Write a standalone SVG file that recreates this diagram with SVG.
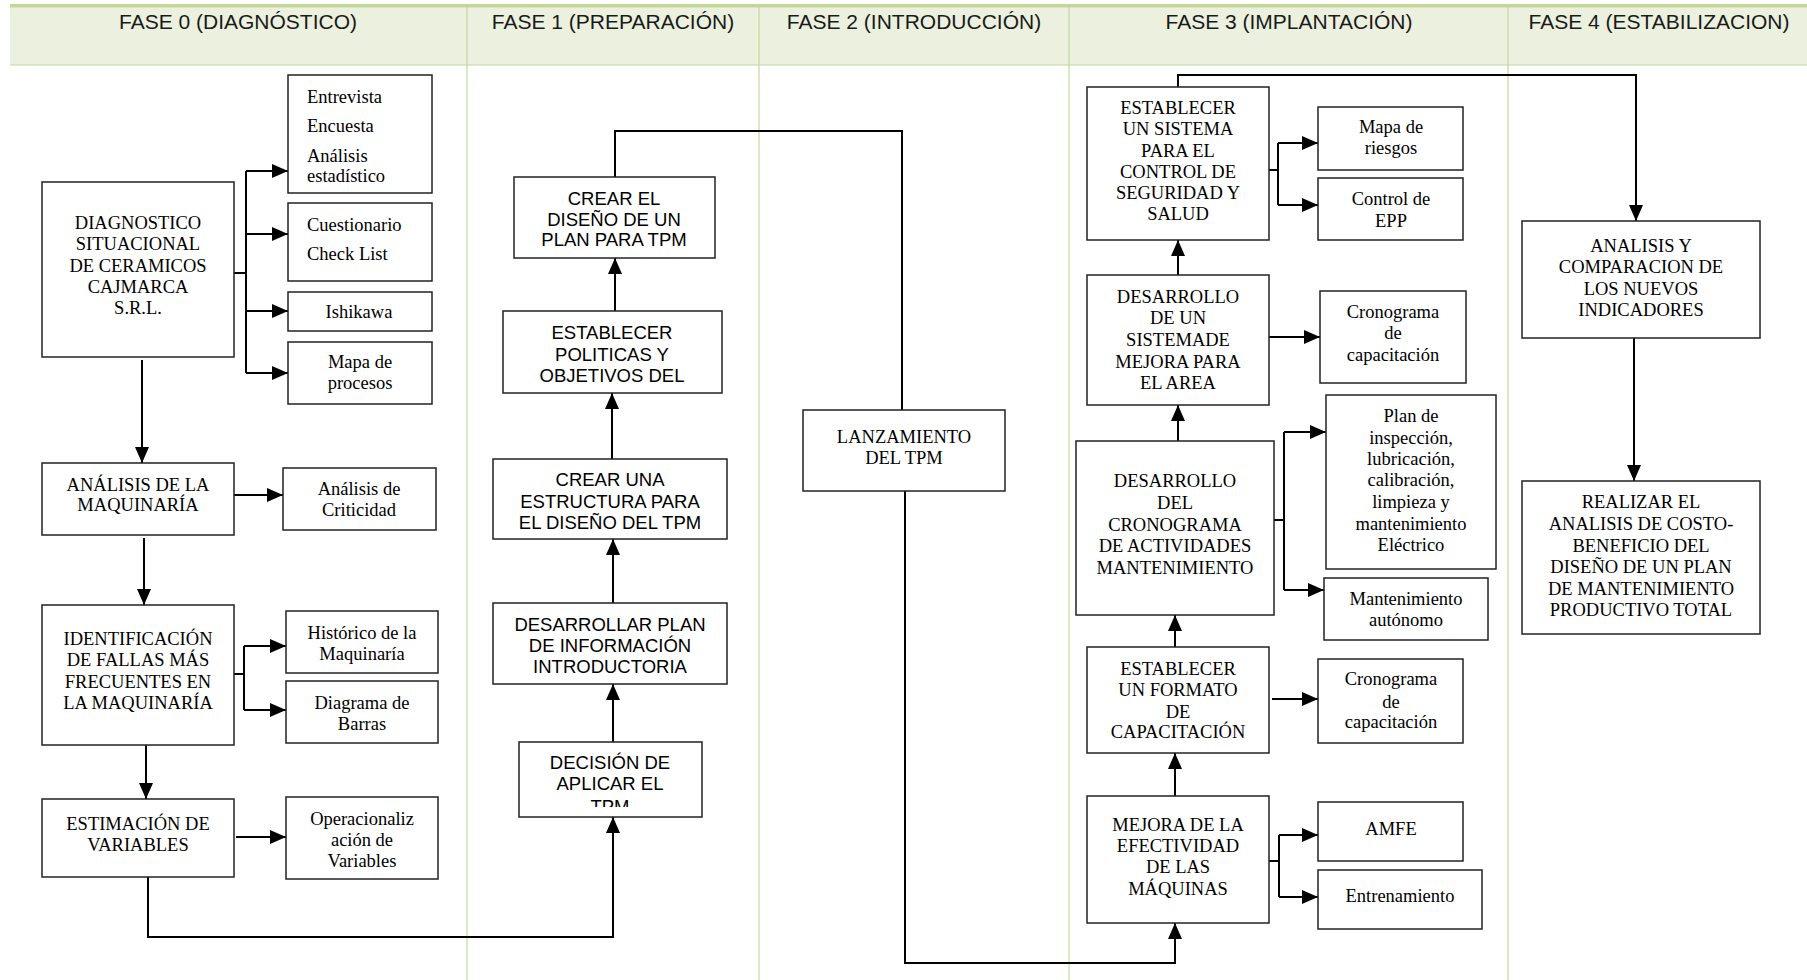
<svg xmlns="http://www.w3.org/2000/svg" width="1807" height="980" viewBox="0 0 1807 980">
  <defs>
    <marker id="arrow" markerUnits="userSpaceOnUse" markerWidth="16" markerHeight="14" refX="16" refY="7" orient="auto">
      <path d="M0,0 L16,7 L0,14 z" fill="#000"/>
    </marker>
    <clipPath id="clipDecision">
      <rect x="519" y="742" width="183" height="65"/>
    </clipPath>
    <style>
      .grid { stroke: #c4d79b; stroke-width: 1.2; fill: none; }
      .head { font-family: "Liberation Sans", Arial, sans-serif; font-size: 21px; fill: #1a1a1a; text-anchor: middle; }
      .box { fill: #fff; stroke: #222; stroke-width: 1.5; }
      .serif { font-family: "Liberation Serif", "Times New Roman", serif; font-size: 18.5px; fill: #000; text-anchor: middle; }
      .serif.left { text-anchor: start; }
      .sans { font-family: "Liberation Sans", Arial, sans-serif; font-size: 18.5px; fill: #000; text-anchor: middle; }
      .link { fill: none; stroke: #000; stroke-width: 2; }
      .arrow { marker-end: url(#arrow); }
    </style>
  </defs>

  <!-- phase table -->
  <g id="table">
    <rect x="10" y="7" width="1797" height="58" fill="#ebf1de"/>
    <rect x="10" y="4" width="1797" height="3.5" fill="#c4d79b"/>
    <line class="grid" x1="10" y1="65" x2="1807" y2="65"/>
    <line class="grid" x1="467" y1="7" x2="467" y2="980"/>
    <line class="grid" x1="759" y1="7" x2="759" y2="980"/>
    <line class="grid" x1="1069" y1="7" x2="1069" y2="980"/>
    <line class="grid" x1="1508" y1="7" x2="1508" y2="980"/>
    <text class="head" x="238" y="29">FASE 0 (DIAGNÓSTICO)</text>
    <text class="head" x="613" y="29">FASE 1 (PREPARACIÓN)</text>
    <text class="head" x="914" y="29">FASE 2 (INTRODUCCIÓN)</text>
    <text class="head" x="1289" y="29">FASE 3 (IMPLANTACIÓN)</text>
    <text class="head" x="1659" y="29">FASE 4 (ESTABILIZACION)</text>
  </g>

  <!-- connectors -->
  <g id="connectors">
    <!-- phase 0 -->
    <polyline class="link" points="234,273 246,273"/>
    <polyline class="link" points="246,171 246,373"/>
    <line class="link arrow" x1="246" y1="171" x2="288" y2="171"/>
    <line class="link arrow" x1="246" y1="234" x2="288" y2="234"/>
    <line class="link arrow" x1="246" y1="311" x2="288" y2="311"/>
    <line class="link arrow" x1="246" y1="373" x2="288" y2="373"/>
    <line class="link arrow" x1="142" y1="360" x2="142" y2="463"/>
    <line class="link arrow" x1="234" y1="495" x2="283" y2="495"/>
    <line class="link arrow" x1="144" y1="538" x2="144" y2="605"/>
    <polyline class="link" points="234,674 244,674"/>
    <polyline class="link" points="244,646 244,710"/>
    <line class="link arrow" x1="244" y1="646" x2="286" y2="646"/>
    <line class="link arrow" x1="244" y1="710" x2="286" y2="710"/>
    <line class="link arrow" x1="146" y1="745" x2="146" y2="799"/>
    <line class="link arrow" x1="236" y1="837" x2="286" y2="837"/>
    <polyline class="link arrow" points="148,877 148,937 613,937 613,817"/>
    <!-- phase 1 -->
    <line class="link arrow" x1="613" y1="742" x2="613" y2="684"/>
    <line class="link arrow" x1="613" y1="603" x2="613" y2="539"/>
    <line class="link arrow" x1="612" y1="459" x2="612" y2="393"/>
    <line class="link arrow" x1="615" y1="311" x2="615" y2="258"/>
    <polyline class="link" points="615,177 615,131 902,131 902,410"/>
    <!-- phase 2 to phase 3 -->
    <polyline class="link arrow" points="905,491 905,963 1175,963 1175,923"/>
    <!-- phase 3 -->
    <line class="link arrow" x1="1175" y1="796" x2="1175" y2="753"/>
    <line class="link arrow" x1="1175" y1="647" x2="1175" y2="615"/>
    <line class="link arrow" x1="1178" y1="441" x2="1178" y2="405"/>
    <line class="link arrow" x1="1178" y1="275" x2="1178" y2="240"/>
    <polyline class="link" points="1269,170 1278,170"/>
    <polyline class="link" points="1278,143 1278,205"/>
    <line class="link arrow" x1="1278" y1="143" x2="1318" y2="143"/>
    <line class="link arrow" x1="1278" y1="205" x2="1318" y2="205"/>
    <line class="link arrow" x1="1269" y1="337" x2="1320" y2="337"/>
    <polyline class="link" points="1274,520 1284,520"/>
    <polyline class="link" points="1284,432 1284,590"/>
    <line class="link arrow" x1="1284" y1="432" x2="1326" y2="432"/>
    <line class="link arrow" x1="1284" y1="590" x2="1324" y2="590"/>
    <line class="link arrow" x1="1272" y1="699" x2="1318" y2="699"/>
    <polyline class="link" points="1269,861 1279,861"/>
    <polyline class="link" points="1279,835 1279,897"/>
    <line class="link arrow" x1="1279" y1="835" x2="1318" y2="835"/>
    <line class="link arrow" x1="1279" y1="897" x2="1318" y2="897"/>
    <!-- phase 3 to phase 4 -->
    <polyline class="link arrow" points="1178,87 1178,75 1636,75 1636,221"/>
    <line class="link arrow" x1="1634" y1="338" x2="1634" y2="481"/>
  </g>

  <!-- phase 0 nodes -->
  <g id="n_diagnostico">
    <rect class="box" x="42" y="182" width="192" height="175"/>
    <text class="serif" x="138" y="229">DIAGNOSTICO</text>
    <text class="serif" x="138" y="250">SITUACIONAL</text>
    <text class="serif" x="138" y="272">DE CERAMICOS</text>
    <text class="serif" x="138" y="293">CAJMARCA</text>
    <text class="serif" x="138" y="314">S.R.L.</text>
  </g>
  <g id="n_entrevista">
    <rect class="box" x="288" y="75" width="144" height="118"/>
    <text class="serif left" x="307" y="103">Entrevista</text>
    <text class="serif left" x="307" y="132">Encuesta</text>
    <text class="serif left" x="307" y="162">Análisis</text>
    <text class="serif left" x="307" y="182">estadístico</text>
  </g>
  <g id="n_cuestionario">
    <rect class="box" x="288" y="203" width="144" height="78"/>
    <text class="serif left" x="307" y="231">Cuestionario</text>
    <text class="serif left" x="307" y="260">Check List</text>
  </g>
  <g id="n_ishikawa">
    <rect class="box" x="288" y="292" width="144" height="39"/>
    <text class="serif" x="359" y="318">Ishikawa</text>
  </g>
  <g id="n_mapa_procesos">
    <rect class="box" x="288" y="342" width="144" height="62"/>
    <text class="serif" x="360" y="368">Mapa de</text>
    <text class="serif" x="360" y="389">procesos</text>
  </g>
  <g id="n_analisis_maquinaria">
    <rect class="box" x="42" y="463" width="192" height="72"/>
    <text class="serif" x="138" y="491">ANÁLISIS DE LA</text>
    <text class="serif" x="138" y="511">MAQUINARÍA</text>
  </g>
  <g id="n_criticidad">
    <rect class="box" x="283" y="468" width="153" height="62"/>
    <text class="serif" x="359" y="495">Análisis de</text>
    <text class="serif" x="359" y="516">Criticidad</text>
  </g>
  <g id="n_fallas">
    <rect class="box" x="42" y="605" width="192" height="140"/>
    <text class="serif" x="138" y="645">IDENTIFICACIÓN</text>
    <text class="serif" x="138" y="666">DE FALLAS MÁS</text>
    <text class="serif" x="138" y="688">FRECUENTES EN</text>
    <text class="serif" x="138" y="709">LA MAQUINARÍA</text>
  </g>
  <g id="n_historico">
    <rect class="box" x="286" y="611" width="152" height="62"/>
    <text class="serif" x="362" y="639">Histórico de la</text>
    <text class="serif" x="362" y="660">Maquinaría</text>
  </g>
  <g id="n_barras">
    <rect class="box" x="286" y="681" width="152" height="62"/>
    <text class="serif" x="362" y="709">Diagrama de</text>
    <text class="serif" x="362" y="730">Barras</text>
  </g>
  <g id="n_estimacion">
    <rect class="box" x="42" y="799" width="192" height="78"/>
    <text class="serif" x="138" y="830">ESTIMACIÓN DE</text>
    <text class="serif" x="138" y="851">VARIABLES</text>
  </g>
  <g id="n_operacionalizacion">
    <rect class="box" x="286" y="797" width="152" height="82"/>
    <text class="serif" x="362" y="825">Operacionaliz</text>
    <text class="serif" x="362" y="846">ación de</text>
    <text class="serif" x="362" y="867">Variables</text>
  </g>

  <!-- phase 1 nodes -->
  <g id="n_decision">
    <rect class="box" x="519" y="742" width="183" height="75"/>
    <g clip-path="url(#clipDecision)">
      <text class="sans" x="610" y="769">DECISIÓN DE</text>
      <text class="sans" x="610" y="790">APLICAR EL</text>
      <text class="sans" x="610" y="813">TPM</text>
    </g>
  </g>
  <g id="n_informacion">
    <rect class="box" x="493" y="603" width="234" height="81"/>
    <text class="sans" x="610" y="631">DESARROLLAR PLAN</text>
    <text class="sans" x="610" y="652">DE INFORMACIÓN</text>
    <text class="sans" x="610" y="673">INTRODUCTORIA</text>
  </g>
  <g id="n_estructura">
    <rect class="box" x="493" y="459" width="234" height="80"/>
    <text class="sans" x="610" y="486">CREAR UNA</text>
    <text class="sans" x="610" y="508">ESTRUCTURA PARA</text>
    <text class="sans" x="610" y="529">EL DISEÑO DEL TPM</text>
  </g>
  <g id="n_politicas">
    <rect class="box" x="503" y="311" width="219" height="82"/>
    <text class="sans" x="612" y="339">ESTABLECER</text>
    <text class="sans" x="612" y="361">POLITICAS Y</text>
    <text class="sans" x="612" y="382">OBJETIVOS DEL</text>
  </g>
  <g id="n_plan_tpm">
    <rect class="box" x="514" y="177" width="201" height="81"/>
    <text class="sans" x="614" y="205">CREAR EL</text>
    <text class="sans" x="614" y="226">DISEÑO DE UN</text>
    <text class="sans" x="614" y="246">PLAN PARA TPM</text>
  </g>

  <!-- phase 2 node -->
  <g id="n_lanzamiento">
    <rect class="box" x="803" y="410" width="202" height="81"/>
    <text class="serif" x="904" y="443">LANZAMIENTO</text>
    <text class="serif" x="904" y="464">DEL TPM</text>
  </g>

  <!-- phase 3 nodes -->
  <g id="n_seguridad">
    <rect class="box" x="1087" y="87" width="182" height="153"/>
    <text class="serif" x="1178" y="114">ESTABLECER</text>
    <text class="serif" x="1178" y="135">UN SISTEMA</text>
    <text class="serif" x="1178" y="157">PARA EL</text>
    <text class="serif" x="1178" y="178">CONTROL DE</text>
    <text class="serif" x="1178" y="199">SEGURIDAD Y</text>
    <text class="serif" x="1178" y="220">SALUD</text>
  </g>
  <g id="n_riesgos">
    <rect class="box" x="1318" y="107" width="145" height="63"/>
    <text class="serif" x="1391" y="133">Mapa de</text>
    <text class="serif" x="1391" y="154">riesgos</text>
  </g>
  <g id="n_epp">
    <rect class="box" x="1318" y="178" width="145" height="62"/>
    <text class="serif" x="1391" y="205">Control de</text>
    <text class="serif" x="1391" y="227">EPP</text>
  </g>
  <g id="n_mejora_area">
    <rect class="box" x="1087" y="275" width="182" height="130"/>
    <text class="serif" x="1178" y="303">DESARROLLO</text>
    <text class="serif" x="1178" y="324">DE UN</text>
    <text class="serif" x="1178" y="346">SISTEMADE</text>
    <text class="serif" x="1178" y="368">MEJORA PARA</text>
    <text class="serif" x="1178" y="389">EL AREA</text>
  </g>
  <g id="n_cronograma_1">
    <rect class="box" x="1320" y="291" width="146" height="92"/>
    <text class="serif" x="1393" y="318">Cronograma</text>
    <text class="serif" x="1393" y="339">de</text>
    <text class="serif" x="1393" y="361">capacitación</text>
  </g>
  <g id="n_actividades">
    <rect class="box" x="1076" y="441" width="198" height="174"/>
    <text class="serif" x="1175" y="487">DESARROLLO</text>
    <text class="serif" x="1175" y="509">DEL</text>
    <text class="serif" x="1175" y="531">CRONOGRAMA</text>
    <text class="serif" x="1175" y="552">DE ACTIVIDADES</text>
    <text class="serif" x="1175" y="574">MANTENIMIENTO</text>
  </g>
  <g id="n_plan_inspeccion">
    <rect class="box" x="1326" y="395" width="170" height="174"/>
    <text class="serif" x="1411" y="422">Plan de</text>
    <text class="serif" x="1411" y="444">inspección,</text>
    <text class="serif" x="1411" y="465">lubricación,</text>
    <text class="serif" x="1411" y="486">calibración,</text>
    <text class="serif" x="1411" y="508">limpieza y</text>
    <text class="serif" x="1411" y="530">mantenimiento</text>
    <text class="serif" x="1411" y="551">Eléctrico</text>
  </g>
  <g id="n_autonomo">
    <rect class="box" x="1324" y="578" width="164" height="62"/>
    <text class="serif" x="1406" y="605">Mantenimiento</text>
    <text class="serif" x="1406" y="626">autónomo</text>
  </g>
  <g id="n_formato">
    <rect class="box" x="1087" y="647" width="182" height="106"/>
    <text class="serif" x="1178" y="675">ESTABLECER</text>
    <text class="serif" x="1178" y="696">UN FORMATO</text>
    <text class="serif" x="1178" y="718">DE</text>
    <text class="serif" x="1178" y="738">CAPACITACIÓN</text>
  </g>
  <g id="n_cronograma_2">
    <rect class="box" x="1318" y="659" width="145" height="84"/>
    <text class="serif" x="1391" y="685">Cronograma</text>
    <text class="serif" x="1391" y="708">de</text>
    <text class="serif" x="1391" y="728">capacitación</text>
  </g>
  <g id="n_efectividad">
    <rect class="box" x="1087" y="796" width="182" height="127"/>
    <text class="serif" x="1178" y="831">MEJORA DE LA</text>
    <text class="serif" x="1178" y="852">EFECTIVIDAD</text>
    <text class="serif" x="1178" y="873">DE LAS</text>
    <text class="serif" x="1178" y="895">MÁQUINAS</text>
  </g>
  <g id="n_amfe">
    <rect class="box" x="1318" y="802" width="145" height="59"/>
    <text class="serif" x="1391" y="835">AMFE</text>
  </g>
  <g id="n_entrenamiento">
    <rect class="box" x="1318" y="870" width="164" height="59"/>
    <text class="serif" x="1400" y="902">Entrenamiento</text>
  </g>

  <!-- phase 4 nodes -->
  <g id="n_indicadores">
    <rect class="box" x="1522" y="221" width="238" height="117"/>
    <text class="serif" x="1641" y="252">ANALISIS Y</text>
    <text class="serif" x="1641" y="273">COMPARACION DE</text>
    <text class="serif" x="1641" y="295">LOS NUEVOS</text>
    <text class="serif" x="1641" y="316">INDICADORES</text>
  </g>
  <g id="n_costo_beneficio">
    <rect class="box" x="1522" y="481" width="238" height="153"/>
    <text class="serif" x="1641" y="508">REALIZAR EL</text>
    <text class="serif" x="1641" y="530">ANALISIS DE COSTO-</text>
    <text class="serif" x="1641" y="552">BENEFICIO DEL</text>
    <text class="serif" x="1641" y="573">DISEÑO DE UN PLAN</text>
    <text class="serif" x="1641" y="595">DE MANTENIMIENTO</text>
    <text class="serif" x="1641" y="616">PRODUCTIVO TOTAL</text>
  </g>
</svg>
